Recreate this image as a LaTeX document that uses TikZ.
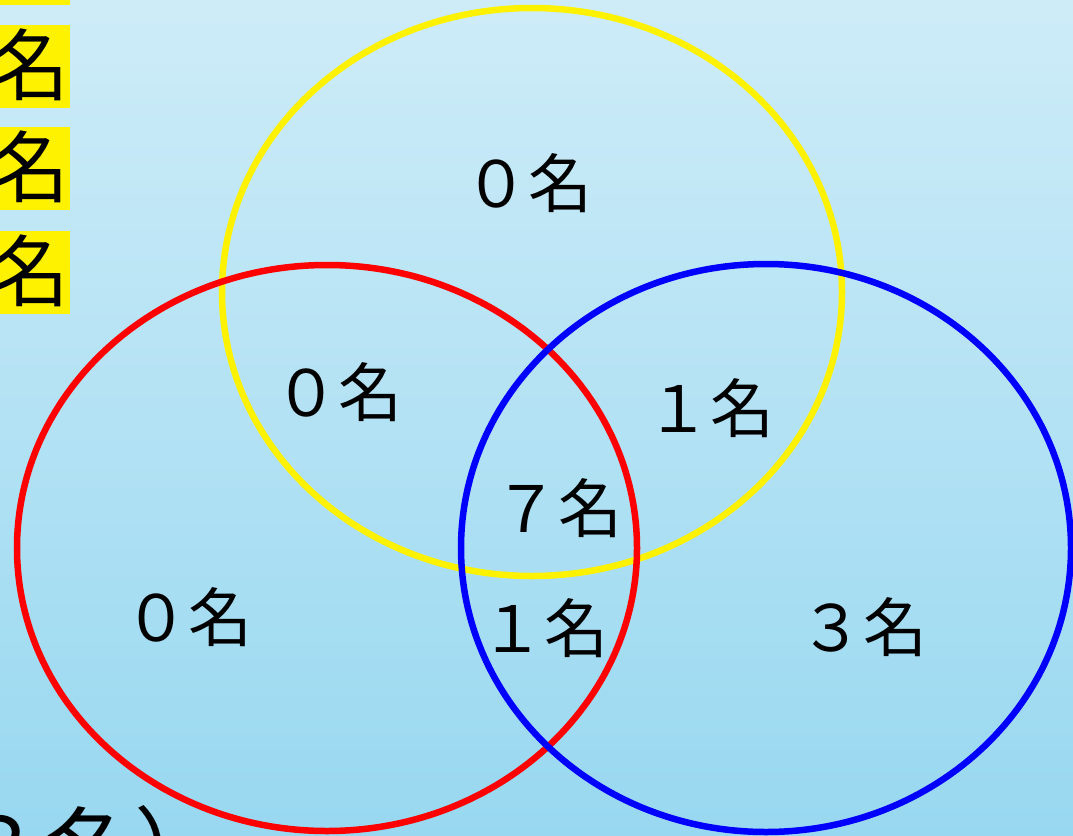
\documentclass[tikz,border=0pt]{standalone}
\usepackage{fontspec}
\newfontfamily\jp{Noto Sans CJK JP}
\tikzset{
  ring/.style={line width=6.5pt},
  lbl/.style={font=\jp\fontsize{64}{64}\selectfont, inner sep=0pt, text=black},
  tag/.style={font=\jp\fontsize{78}{78}\selectfont, fill=yellow, inner sep=0pt, text height=70pt, text depth=13pt, anchor=east, text=black},
}
\begin{document}
\begin{tikzpicture}[x=1pt,y=-1pt]
\useasboundingbox (0,0) rectangle (1073,835);
\clip (0,0) rectangle (1073,835);
\shade[top color={rgb,255:red,206;green,236;blue,248}, bottom color={rgb,255:red,152;green,216;blue,240}] (0,0) rectangle (1073,835);
% tags top-left
\node[tag] (t0) at (70,-37) {名};
\node[tag] (t1) at (70,66) {名};
\node[tag] (t2) at (70,168) {名};
\node[tag] (t3) at (70,272) {名};
% circles
\draw[ring, yellow] (532,292) ellipse [x radius=310, y radius=284];
\draw[ring, red] (327,548) ellipse [x radius=310, y radius=283];
\draw[ring, blue] (766,548) ellipse [x radius=305, y radius=284];
% labels
\node[lbl] (a) at (528,183) {０名};
\node[lbl] (b) at (338,392) {０名};
\node[lbl] (c) at (710,408) {１名};
\node[lbl] (d) at (558,508) {７名};
\node[lbl] (e) at (188,617) {０名};
\node[lbl] (f) at (544,628) {１名};
\node[lbl] (g) at (863,627) {３名};
% cropped bottom text
\node[lbl, anchor=base east, font=\jp\fontsize{90}{90}\selectfont] (h) at (225,882) {３名）};
\end{tikzpicture}
\end{document}
